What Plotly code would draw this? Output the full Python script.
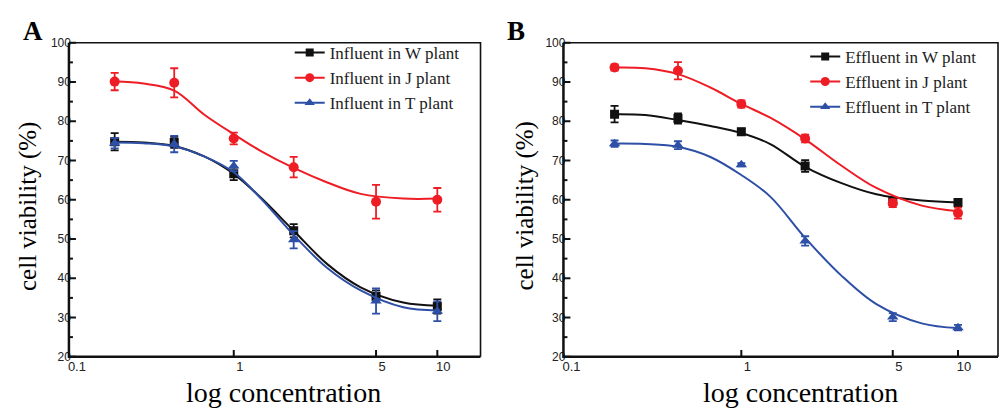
import math
import plotly.graph_objects as go

# ---------------- data ----------------
conc = [0.26, 0.51, 1, 1.97, 5, 10]
curve_x = [0.26, 0.36, 0.51, 0.72, 1, 1.36, 1.97, 2.88, 4.2, 6.8, 10]

# Panel A (influent)
a_names = ["Influent in W plant", "Influent in J plant", "Influent in T plant"]
a_W = [74.8, 74.6, 66.6, 52.1, 35.4, 32.8]
a_W_err = [2.2, 1.4, 1.6, 1.7, 1.5, 1.8]
a_J = [90.1, 89.8, 75.6, 68.3, 59.5, 60.0]
a_J_err = [2.2, 3.7, 1.5, 2.6, 4.3, 3.0]
a_T = [74.4, 74.2, 68.6, 49.8, 34.2, 31.6]
a_T_err = [1.3, 2.1, 1.3, 2.2, 3.2, 2.5]
a_W_fit = [74.8, 74.6, 73.7, 71.0, 66.6, 60.5, 52.1, 43.6, 37.7, 33.8, 33.0]
a_J_fit = [90.1, 89.6, 87.8, 81.6, 76.7, 72.4, 68.1, 64.4, 61.5, 60.3, 60.3]
a_T_fit = [74.6, 74.4, 73.6, 71.0, 67.0, 60.3, 51.0, 42.6, 36.9, 32.6, 31.8]

# Panel B (effluent)
b_names = ["Effluent in W plant", "Effluent in J plant", "Effluent in T plant"]
b_W = [81.8, 80.7, 77.3, 68.6, 59.6, 59.3]
b_W_err = [2.1, 1.3, 0.8, 1.5, 0.8, 0.6]
b_J = [93.7, 92.85, 84.4, 75.6, 59.1, 56.6]
b_J_err = [0.8, 2.2, 0.9, 1.0, 1.0, 1.4]
b_T = [74.3, 73.9, 68.9, 49.5, 30.1, 27.4]
b_T_err = [0.8, 1.0, 0.4, 1.2, 1.0, 0.7]
b_W_fit = [81.8, 81.6, 80.3, 78.8, 77.0, 74.2, 68.4, 64.3, 61.4, 59.8, 59.3]
b_J_fit = [93.7, 93.5, 92.0, 88.6, 84.4, 80.9, 75.4, 68.8, 63.0, 58.5, 57.1]
b_T_fit = [74.3, 74.2, 73.5, 70.9, 66.3, 60.8, 50.3, 40.8, 33.4, 28.5, 27.3]

x_ticks = [1, 5, 10]
x_tick_text = ["0.1", "1", "5", "10"]
x_range_a = [0.155, 16.3]
x_range_b = [0.151, 15.3]
y_range = [20, 100]
y_major = [20, 30, 40, 50, 60, 70, 80, 90, 100]
y_minor = [25, 35, 45, 55, 65, 75, 85, 95]

# ---------------- style / geometry ----------------
BLACK = "#111111"
RED = "#EE1D25"
BLUE = "#2E4FA6"
SERIF = "Liberation Serif, Times New Roman, serif"
SANS = "Liberation Sans, Arial, sans-serif"
W, H = 1001, 414
dom_a = [68, 480]
dom_b = [563, 998]
dom_y = [37, 362]

styles = [
    dict(color=BLACK, symbol="square", size=9),
    dict(color=RED, symbol="circle", size=10),
    dict(color=BLUE, symbol="triangle-up", size=10),
]

fig = go.Figure()


def add_panel(xa, ya, legend, names, pts, errs, fits):
    for name, p, e, f, st in zip(names, pts, errs, fits, styles):
        fig.add_trace(go.Scatter(
            x=curve_x, y=f, mode="lines", line=dict(color=st["color"], width=2, shape="spline", smoothing=1.0),
            xaxis=xa, yaxis=ya, showlegend=False, hoverinfo="skip"))
        fig.add_trace(go.Scatter(
            x=conc, y=p, mode="markers",
            marker=dict(color=st["color"], symbol=st["symbol"], size=st["size"], line=dict(width=0)),
            error_y=dict(type="data", array=e, visible=True, color=st["color"], thickness=1.8, width=4),
            xaxis=xa, yaxis=ya, showlegend=False))
        fig.add_trace(go.Scatter(
            x=[None], y=[None], mode="lines+markers", name=name,
            line=dict(color=st["color"], width=2),
            marker=dict(color=st["color"], symbol=st["symbol"], size=st["size"] - 1),
            xaxis=xa, yaxis=ya, legend=legend, showlegend=True))


add_panel("x", "y", "legend", a_names, [a_W, a_J, a_T], [a_W_err, a_J_err, a_T_err], [a_W_fit, a_J_fit, a_T_fit])
add_panel("x2", "y2", "legend2", b_names, [b_W, b_J, b_T], [b_W_err, b_J_err, b_T_err], [b_W_fit, b_J_fit, b_T_fit])


# ---- axis boxes and tick marks on a full-page overlay (pixel coordinates derived from the axes) ----
def frame_traces(rng, dom):
    l0, l1 = math.log10(rng[0]), math.log10(rng[1])
    pw = dom[1] - dom[0]
    ph = dom_y[1] - dom_y[0]
    left, right, top, bottom = dom[0], dom[1], dom_y[0], dom_y[1]

    def ypx(v):
        return bottom - (v - y_range[0]) / (y_range[1] - y_range[0]) * ph

    def xpx(v):
        return left + (math.log10(v) - l0) / (l1 - l0) * pw

    # left + bottom (heavier)
    fig.add_trace(go.Scatter(x=[left, left, right], y=[top, bottom, bottom], mode="lines",
                             line=dict(color=BLACK, width=2.5), xaxis="x3", yaxis="y3",
                             showlegend=False, hoverinfo="skip"))
    # top + right (lighter)
    fig.add_trace(go.Scatter(x=[left, right, right], y=[top, top, bottom], mode="lines",
                             line=dict(color=BLACK, width=1.6), xaxis="x3", yaxis="y3",
                             showlegend=False, hoverinfo="skip"))
    tx, ty = [], []
    for v in y_major:
        tx += [left, left + 7, None]
        ty += [ypx(v), ypx(v), None]
    for v in y_minor:
        tx += [left, left + 4, None]
        ty += [ypx(v), ypx(v), None]
    for v in x_ticks:
        tx += [xpx(v), xpx(v), None]
        ty += [bottom, bottom - 7, None]
    fig.add_trace(go.Scatter(x=tx, y=ty, mode="lines", line=dict(color=BLACK, width=2),
                             xaxis="x3", yaxis="y3", showlegend=False, hoverinfo="skip",
                             connectgaps=False))


frame_traces(x_range_a, dom_a)
frame_traces(x_range_b, dom_b)

ydom = [1 - dom_y[1] / H, 1 - dom_y[0] / H]


def xaxis(dom, rng, anchor):
    l0, l1 = math.log10(rng[0]), math.log10(rng[1])
    pw = dom[1] - dom[0]

    def xshift(v, px):
        return 10 ** (math.log10(v) + px / pw * (l1 - l0))

    # tick labels sit slightly right of their ticks, as in the source figure
    label_pos = [xshift(rng[0], 8)] + [xshift(v, 6) for v in x_ticks]
    return dict(
        type="log", domain=[dom[0] / W, dom[1] / W], range=[l0, l1], anchor=anchor,
        tickmode="array", tickvals=label_pos, ticktext=x_tick_text, ticks="",
        showline=False, showgrid=False, zeroline=False,
        tickfont=dict(family=SANS, size=13, color="#222"),
    )


def yaxis(anchor):
    return dict(
        domain=ydom, range=y_range, anchor=anchor, tickmode="array", tickvals=y_major, ticks="",
        showline=False, showgrid=False, zeroline=False, ticklabelstandoff=-3,
        tickfont=dict(family=SANS, size=12, color="#222"),
    )


legend_common = dict(
    font=dict(family=SERIF, size=17, color="#222"), bgcolor="rgba(0,0,0,0)", borderwidth=0,
    xanchor="left", yanchor="top", tracegroupgap=0,
)


def ann(text, x, y, size, bold=False, angle=0):
    return dict(text=f"<b>{text}</b>" if bold else text, x=x / W, y=1 - y / H,
                xref="paper", yref="paper", xanchor="center", yanchor="middle", showarrow=False,
                textangle=angle, font=dict(family=SERIF, size=size, color="black"))


fig.update_layout(
    width=W, height=H, margin=dict(l=0, r=0, t=0, b=0),
    paper_bgcolor="white", plot_bgcolor="rgba(0,0,0,0)",
    xaxis=xaxis(dom_a, x_range_a, "y"),
    yaxis=yaxis("x"),
    xaxis2=xaxis(dom_b, x_range_b, "y2"),
    yaxis2=yaxis("x2"),
    xaxis3=dict(domain=[0, 1], range=[0, W], anchor="y3", visible=False, fixedrange=True),
    yaxis3=dict(domain=[0, 1], range=[H, 0], anchor="x3", visible=False, fixedrange=True),
    legend=dict(x=289 / W, y=1 - 29 / H, **legend_common),
    legend2=dict(x=805 / W, y=1 - 33 / H, **legend_common),
    showlegend=True,
    annotations=[
        ann("A", 32, 25, 27, bold=True),
        ann("B", 516, 25, 27, bold=True),
        ann("log concentration", 283, 399, 28),
        ann("log concentration", 800, 399, 28),
        ann("cell viability (%)", 27, 206, 25, angle=-90),
        ann("cell viability (%)", 525, 206, 25, angle=-90),
    ],
)

fig.write_html("out.html")
